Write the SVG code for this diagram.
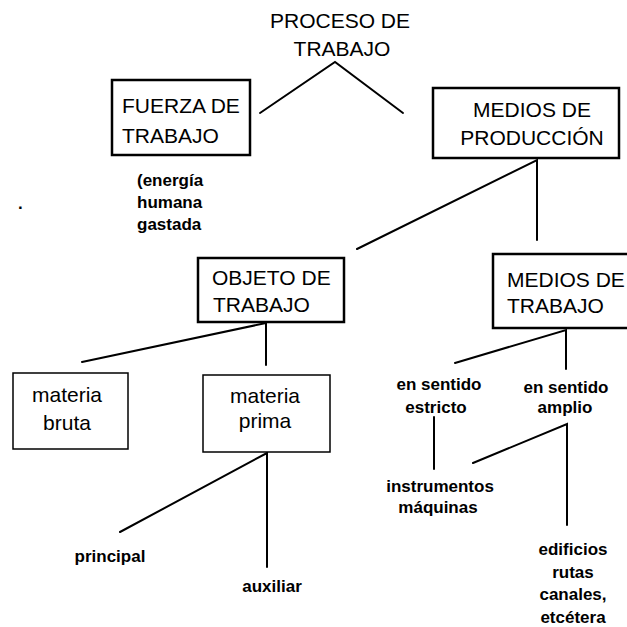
<svg xmlns="http://www.w3.org/2000/svg" width="627" height="627" viewBox="0 0 627 627">
<style>
.bg{fill:#fff}
.box{fill:#fff;stroke:#000;stroke-width:2.5}
.thin{fill:#fff;stroke:#000;stroke-width:1.5}
.ln{stroke:#000;stroke-width:2;fill:none;stroke-linecap:round}
.t{font-family:"Liberation Sans",Arial,sans-serif;font-size:21px;fill:#000}
.m{font-family:"Liberation Sans",Arial,sans-serif;font-size:21px;fill:#000;text-anchor:middle}
.b{font-family:"Liberation Sans",Arial,sans-serif;font-size:17px;font-weight:bold;fill:#000;text-anchor:middle}
.bl{font-family:"Liberation Sans",Arial,sans-serif;font-size:17px;font-weight:bold;fill:#000}
</style>
<rect class="bg" x="0" y="0" width="627" height="627"/>
<g id="connectors">
<polyline class="ln" points="260,113 335,62 403,113"/>
<polyline class="ln" points="357,249 537,160 537,240"/>
<polyline class="ln" points="82,362 266,323 266,365"/>
<polyline class="ln" points="455,363 566,330 566,369"/>
<polyline class="ln" points="120,532 267,453 267,567"/>
<line class="ln" x1="434" y1="417" x2="434" y2="469"/>
<polyline class="ln" points="473,463 567,424 567,525"/>
</g>
<g id="proceso">
<text class="m" x="340" y="28">PROCESO DE</text>
<text class="m" x="342" y="56">TRABAJO</text>
</g>
<g id="fuerza">
<rect class="box" x="112" y="80" width="138" height="75"/>
<text class="t" x="122" y="113">FUERZA DE</text>
<text class="t" x="122" y="143">TRABAJO</text>
</g>
<g id="energia">
<text class="bl" x="137" y="186">(energía</text>
<text class="bl" x="137" y="208">humana</text>
<text class="bl" x="137" y="230">gastada</text>
</g>
<g id="punto">
<text class="bl" x="18" y="209">.</text>
</g>
<g id="medios-produccion">
<rect class="box" x="433" y="88" width="186" height="70"/>
<text class="m" x="532" y="117">MEDIOS DE</text>
<text class="m" x="532" y="145">PRODUCCIÓN</text>
</g>
<g id="objeto">
<rect class="box" x="198" y="258" width="146" height="64"/>
<text class="t" x="212" y="285">OBJETO DE</text>
<text class="t" x="213" y="312">TRABAJO</text>
</g>
<g id="medios-trabajo">
<rect class="box" x="493" y="254" width="150" height="74"/>
<text class="t" x="507" y="287">MEDIOS DE</text>
<text class="t" x="507" y="313">TRABAJO</text>
</g>
<g id="materia-bruta">
<rect class="thin" x="13" y="373" width="115" height="76"/>
<text class="m" x="67" y="402">materia</text>
<text class="m" x="67" y="430">bruta</text>
</g>
<g id="materia-prima">
<rect class="thin" x="203" y="375" width="127" height="77"/>
<text class="m" x="265" y="403">materia</text>
<text class="m" x="265" y="428">prima</text>
</g>
<g id="principal"><text class="b" x="110" y="562">principal</text></g>
<g id="auxiliar"><text class="b" x="272" y="592">auxiliar</text></g>
<g id="estricto">
<text class="b" x="439" y="390">en sentido</text>
<text class="b" x="436" y="413">estricto</text>
</g>
<g id="amplio">
<text class="b" x="566" y="393">en sentido</text>
<text class="b" x="565" y="413">amplio</text>
</g>
<g id="instrumentos">
<text class="b" x="440" y="492">instrumentos</text>
<text class="b" x="438" y="513">máquinas</text>
</g>
<g id="edificios">
<text class="b" x="573" y="555">edificios</text>
<text class="b" x="573" y="578">rutas</text>
<text class="b" x="573" y="600">canales,</text>
<text class="b" x="573" y="623">etcétera</text>
</g>
</svg>
